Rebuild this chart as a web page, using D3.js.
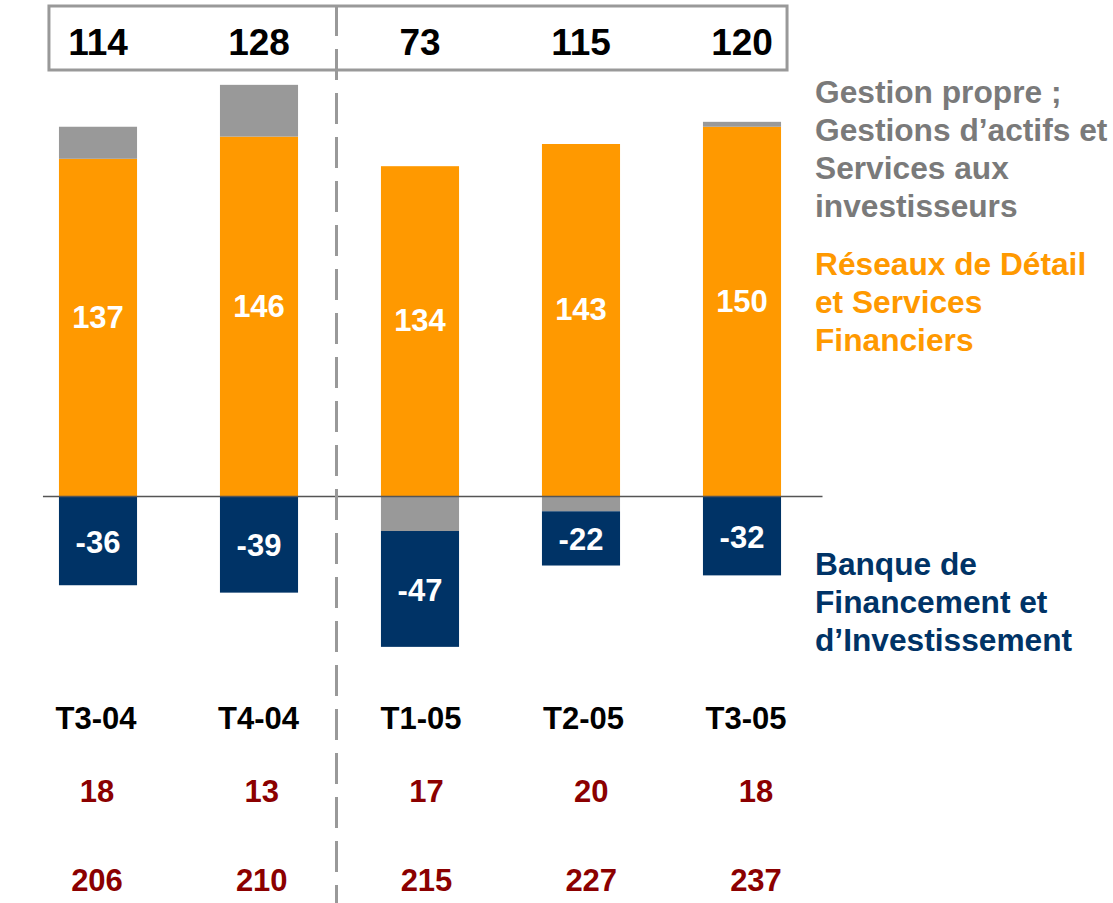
<!DOCTYPE html>
<html>
<head>
<meta charset="utf-8">
<script src="https://cdn.jsdelivr.net/npm/d3@7"></script>
<style>
  body { margin: 0; background: #fff; }
  text { font-family: "Liberation Sans", Arial, sans-serif; font-weight: bold; }
</style>
</head>
<body>
<div id="chart"></div>
<script>
const categories = ["T3-04", "T4-04", "T1-05", "T2-05", "T3-05"];
const rdsf = [137, 146, 134, 143, 150];   // Réseaux de Détail et Services Financiers
const gestion = [13, 21, -14, -6, 2];    // Gestion propre ; Gestions d'actifs...
const bfi = [-36, -39, -47, -22, -32];   // Banque de Financement et d'Investissement
const totals = [114, 128, 73, 115, 120];
const rowA = [18, 13, 17, 20, 18];
const rowB = [206, 210, 215, 227, 237];

const legendGestion = ["Gestion propre ;", "Gestions d\u2019actifs et", "Services aux", "investisseurs"];
const legendRdsf = ["Réseaux de Détail", "et Services", "Financiers"];
const legendBfi = ["Banque de", "Financement et", "d\u2019Investissement"];

const colors = { rdsf: "#ff9900", gestion: "#999999", bfi: "#003366" };

const width = 1113, height = 903;

const svg = d3.select("#chart")
  .append("svg")
  .attr("width", width)
  .attr("height", height);

const x = d3.scaleBand()
  .domain(categories)
  .range([17.5, 822.5])
  .paddingInner(0.515)
  .paddingOuter(0.2575);

const y = d3.scaleLinear()
  .domain([-70, 170])
  .range([669.05, 77.45]);

// small drift of the table rows compared to the bars
const xCat = d3.scalePoint().domain(categories).range([96, 746]);
const xRows = d3.scalePoint().domain(categories).range([97, 756]);

const data = categories.map((c, i) => ({ cat: c, rdsf: rdsf[i], gestion: gestion[i], bfi: bfi[i] }));

const series = d3.stack()
  .keys(["rdsf", "gestion", "bfi"])
  .offset(d3.stackOffsetDiverging)(data);

// totals box
const bw = x.bandwidth();
svg.append("rect")
  .attr("x", x(categories[0]) - 10)
  .attr("y", 6)
  .attr("width", x(categories[4]) + bw + 6 - (x(categories[0]) - 10))
  .attr("height", 64)
  .attr("fill", "none")
  .attr("stroke", "#999")
  .attr("stroke-width", 3);

svg.append("g")
  .selectAll("text")
  .data(totals)
  .join("text")
  .attr("x", (d, i) => x(categories[i]) + bw / 2)
  .attr("y", 55)
  .attr("text-anchor", "middle")
  .attr("fill", "#000")
  .style("font-size", "37px")
  .text(d => d);

// bars
svg.append("g")
  .selectAll("g")
  .data(series)
  .join("g")
  .attr("fill", d => colors[d.key])
  .selectAll("rect")
  .data(d => d)
  .join("rect")
  .attr("x", d => x(d.data.cat))
  .attr("y", d => y(Math.max(d[0], d[1])))
  .attr("width", bw)
  .attr("height", d => Math.abs(y(d[0]) - y(d[1])));

// segment labels
series.filter(s => s.key !== "gestion").forEach(s => {
  svg.append("g")
    .selectAll("text")
    .data(s)
    .join("text")
    .attr("x", d => x(d.data.cat) + bw / 2)
    .attr("y", d => y((d[0] + d[1]) / 2))
    .attr("dy", s.key === "bfi" ? "0.38em" : "0")
    .attr("text-anchor", "middle")
    .attr("fill", "#fff")
    .style("font-size", "31px")
    .text(d => d.data[s.key]);
});

// zero line
svg.append("line")
  .attr("x1", x(categories[0]) - 16)
  .attr("x2", x.range()[1])
  .attr("y1", y(0))
  .attr("y2", y(0))
  .attr("stroke", "#555")
  .attr("stroke-width", 1.5);

// dashed separator
const sepX = (x(categories[1]) + bw + x(categories[2])) / 2 - 3;
svg.append("line")
  .attr("x1", sepX)
  .attr("x2", sepX)
  .attr("y1", 5)
  .attr("y2", height)
  .attr("stroke", "#999")
  .attr("stroke-width", 3)
  .attr("stroke-dasharray", "31,13");

// category labels
svg.append("g")
  .selectAll("text")
  .data(categories)
  .join("text")
  .attr("x", d => xCat(d))
  .attr("y", 729)
  .attr("text-anchor", "middle")
  .attr("fill", "#000")
  .style("font-size", "31px")
  .text(d => d);

// two rows of figures below
[[rowA, 802], [rowB, 891]].forEach(([vals, yy]) => {
  svg.append("g")
    .selectAll("text")
    .data(vals)
    .join("text")
    .attr("x", (d, i) => xRows(categories[i]))
    .attr("y", yy)
    .attr("text-anchor", "middle")
    .attr("fill", "#8b0000")
    .style("font-size", "31px")
    .text(d => d);
});

// legend
[[legendGestion, 103, "#7a7a7a"], [legendRdsf, 275, colors.rdsf], [legendBfi, 575, colors.bfi]]
  .forEach(([lines, y0, col]) => {
    svg.append("g")
      .selectAll("text")
      .data(lines)
      .join("text")
      .attr("x", 815)
      .attr("y", (d, i) => y0 + i * 38)
      .attr("fill", col)
      .style("font-size", "31.7px")
      .text(d => d);
  });
</script>
</body>
</html>
